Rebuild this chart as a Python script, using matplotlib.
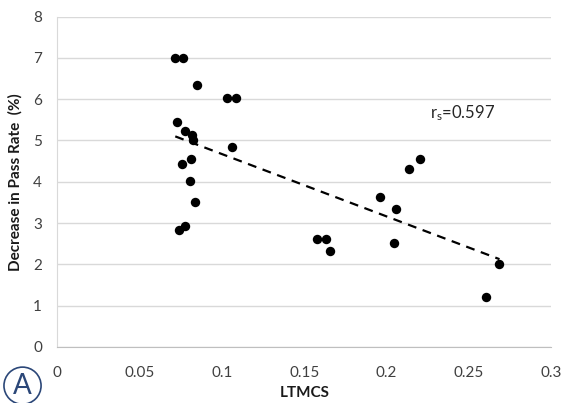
import numpy as np
import matplotlib
matplotlib.use("Agg")
import matplotlib.pyplot as plt

plt.rcParams['font.family'] = ['Lato', 'DejaVu Sans']
plt.rcParams['mathtext.default'] = 'regular'

# LTMCS vs decrease in pass rate
ltmcs = [0.0716, 0.0765, 0.0846, 0.1030, 0.1082, 0.0729, 0.0777, 0.0817,
         0.0823, 0.1059, 0.0810, 0.0755, 0.0808, 0.0836, 0.0775, 0.0738,
         0.1580, 0.1630, 0.1654, 0.1960, 0.2055, 0.2043, 0.2138, 0.2205,
         0.2686, 0.2605]
decrease = [7.0, 7.0, 6.35, 6.02, 6.02, 5.44, 5.23, 5.14,
            5.02, 4.84, 4.55, 4.43, 4.02, 3.52, 2.92, 2.82,
            2.62, 2.62, 2.32, 3.63, 3.34, 2.51, 4.32, 4.54,
            2.02, 1.22]
x_ticks = [0, 0.05, 0.1, 0.15, 0.2, 0.25, 0.3]
x_tick_labels = ["0", "0.05", "0.1", "0.15", "0.2", "0.25", "0.3"]
y_ticks = [0, 1, 2, 3, 4, 5, 6, 7, 8]
rs_label = "$r_s$=0.597"

x = np.array(ltmcs)
y = np.array(decrease)

fig = plt.figure(figsize=(5.63, 4.03), dpi=100)
ax = fig.add_axes([0.102, 0.139, 0.877, 0.820])

ax.grid(axis='y', color='#d9d9d9', linewidth=1)
ax.set_axisbelow(True)
ax.scatter(x, y, s=46, color='black', zorder=3, linewidths=0)

# linear trend line
slope, intercept = np.polyfit(x, y, 1)
xs = np.array([x.min(), x.max()])
ax.plot(xs, slope * xs + intercept, color='black', linestyle=(0, (4, 3)),
        linewidth=1.6, zorder=2)

ax.text(0.2264, 5.67, rs_label, fontsize=12, va='center', ha='left', color='#262626')

ax.set_xlim(0, 0.3)
ax.set_ylim(0, 8)
ax.set_xticks(x_ticks)
ax.set_xticklabels(x_tick_labels)
ax.set_yticks(y_ticks)
ax.tick_params(length=0, labelsize=11, colors='#404040')
ax.tick_params(axis='x', pad=14)
ax.tick_params(axis='y', pad=11)

for side in ['top', 'right']:
    ax.spines[side].set_visible(False)
ax.spines['left'].set_color('#d9d9d9')
ax.spines['bottom'].set_color('#bfbfbf')

ax.set_xlabel("LTMCS", fontsize=11, fontweight='bold', color='#1a1a1a', labelpad=4)
ax.set_ylabel("Decrease in Pass Rate  (%)", fontsize=11, fontweight='bold',
              color='#1a1a1a', labelpad=8)

fig.text(0.040, 0.043, "A", fontsize=20, color='#2b4778', ha='center', va='center',
         bbox=dict(boxstyle='circle,pad=0.2', fc='none', ec='#2b4778', lw=1.2))

fig.savefig("out.png", dpi=100)
